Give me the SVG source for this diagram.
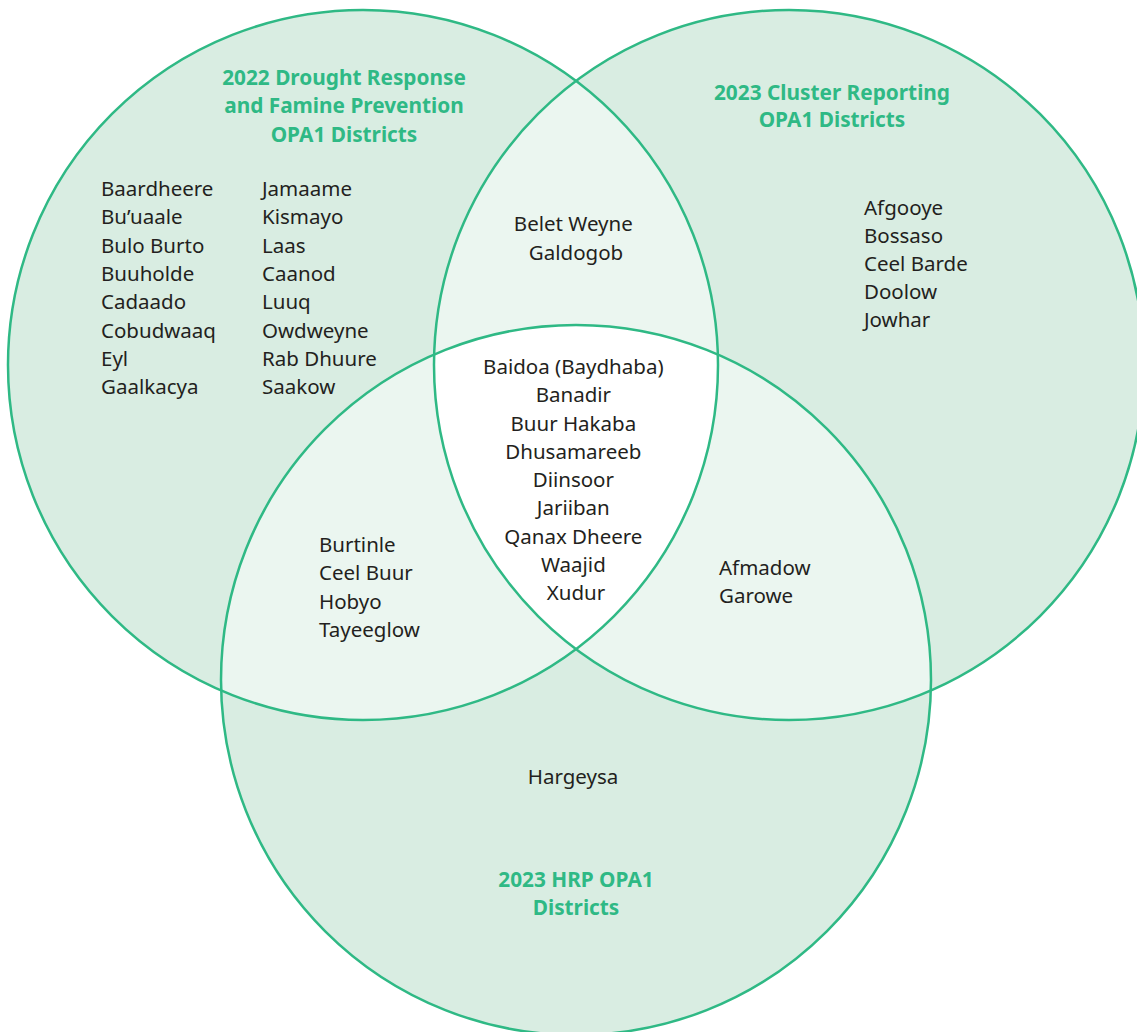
<svg xmlns="http://www.w3.org/2000/svg" width="1137" height="1032" viewBox="0 0 1137 1032">
  <style>
    .ring { fill: #d9ede2; }
    .pair { fill: #ebf6f0; }
    .core { fill: #ffffff; }
    .edge { fill: none; stroke: #2fb985; stroke-width: 2.5; }
    .title { font-family: "Noto Sans", "Liberation Sans", sans-serif; font-weight: 700; font-size: 20.8px; fill: #2fb985; text-anchor: middle; }
    .name { font-family: "Noto Sans", "Liberation Sans", sans-serif; font-size: 20.5px; fill: #231f20; }
    .mid { text-anchor: middle; }
  </style>
  <defs>
    <clipPath id="clipA"><circle cx="363" cy="365" r="355"/></clipPath>
    <clipPath id="clipB"><circle cx="789" cy="365" r="355"/></clipPath>
  </defs>

  <rect width="1137" height="1032" fill="#ffffff"/>

  <!-- region fills: single sets, pairwise overlaps, triple overlap -->
  <g id="fills">
    <circle class="ring" cx="363" cy="365" r="355"/>
    <circle class="ring" cx="789" cy="365" r="355"/>
    <circle class="ring" cx="576" cy="680" r="355"/>
    <g clip-path="url(#clipA)">
      <circle class="pair" cx="789" cy="365" r="355"/>
      <circle class="pair" cx="576" cy="680" r="355"/>
    </g>
    <g clip-path="url(#clipB)">
      <circle class="pair" cx="576" cy="680" r="355"/>
    </g>
    <g clip-path="url(#clipA)">
      <g clip-path="url(#clipB)">
        <circle class="core" cx="576" cy="680" r="355"/>
      </g>
    </g>
  </g>

  <!-- circle outlines -->
  <g id="connectors">
    <circle class="edge" cx="363" cy="365" r="355"/>
    <circle class="edge" cx="789" cy="365" r="355"/>
    <circle class="edge" cx="576" cy="680" r="355"/>
  </g>

  <g id="set-drought">
    <text class="title" x="344" y="85">2022 Drought Response</text>
    <text class="title" x="344" y="113">and Famine Prevention</text>
    <text class="title" x="344" y="142">OPA1 Districts</text>
    <text class="name" x="101">
      <tspan x="101" y="196">Baardheere</tspan>
      <tspan x="101" y="224">Bu’uaale</tspan>
      <tspan x="101" y="253">Bulo Burto</tspan>
      <tspan x="101" y="281">Buuholde</tspan>
      <tspan x="101" y="309">Cadaado</tspan>
      <tspan x="101" y="338">Cobudwaaq</tspan>
      <tspan x="101" y="366">Eyl</tspan>
      <tspan x="101" y="394">Gaalkacya</tspan>
    </text>
    <text class="name" x="262">
      <tspan x="262" y="196">Jamaame</tspan>
      <tspan x="262" y="224">Kismayo</tspan>
      <tspan x="262" y="253">Laas</tspan>
      <tspan x="262" y="281">Caanod</tspan>
      <tspan x="262" y="309">Luuq</tspan>
      <tspan x="262" y="338">Owdweyne</tspan>
      <tspan x="262" y="366">Rab Dhuure</tspan>
      <tspan x="262" y="394">Saakow</tspan>
    </text>
  </g>

  <g id="set-cluster">
    <text class="title" x="832" y="100">2023 Cluster Reporting</text>
    <text class="title" x="832" y="127">OPA1 Districts</text>
    <text class="name">
      <tspan x="864" y="215">Afgooye</tspan>
      <tspan x="864" y="243">Bossaso</tspan>
      <tspan x="864" y="271">Ceel Barde</tspan>
      <tspan x="864" y="299">Doolow</tspan>
      <tspan x="864" y="327">Jowhar</tspan>
    </text>
  </g>

  <g id="drought-cluster">
    <text class="name mid">
      <tspan x="576" y="231">Belet Weyne</tspan>
      <tspan x="576" y="260">Galdogob</tspan>
    </text>
  </g>

  <g id="all-three">
    <text class="name mid">
      <tspan x="576" y="374">Baidoa (Baydhaba)</tspan>
      <tspan x="576" y="402">Banadir</tspan>
      <tspan x="576" y="431">Buur Hakaba</tspan>
      <tspan x="576" y="459">Dhusamareeb</tspan>
      <tspan x="576" y="487">Diinsoor</tspan>
      <tspan x="576" y="515">Jariiban</tspan>
      <tspan x="576" y="544">Qanax Dheere</tspan>
      <tspan x="576" y="572">Waajid</tspan>
      <tspan x="576" y="600">Xudur</tspan>
    </text>
  </g>

  <g id="drought-hrp">
    <text class="name">
      <tspan x="319" y="552">Burtinle</tspan>
      <tspan x="319" y="580">Ceel Buur</tspan>
      <tspan x="319" y="609">Hobyo</tspan>
      <tspan x="319" y="637">Tayeeglow</tspan>
    </text>
  </g>

  <g id="cluster-hrp">
    <text class="name">
      <tspan x="719" y="575">Afmadow</tspan>
      <tspan x="719" y="603">Garowe</tspan>
    </text>
  </g>

  <g id="set-hrp">
    <text class="name mid" x="573" y="784">Hargeysa</text>
    <text class="title" x="576" y="887">2023 HRP OPA1</text>
    <text class="title" x="576" y="915">Districts</text>
  </g>
</svg>
